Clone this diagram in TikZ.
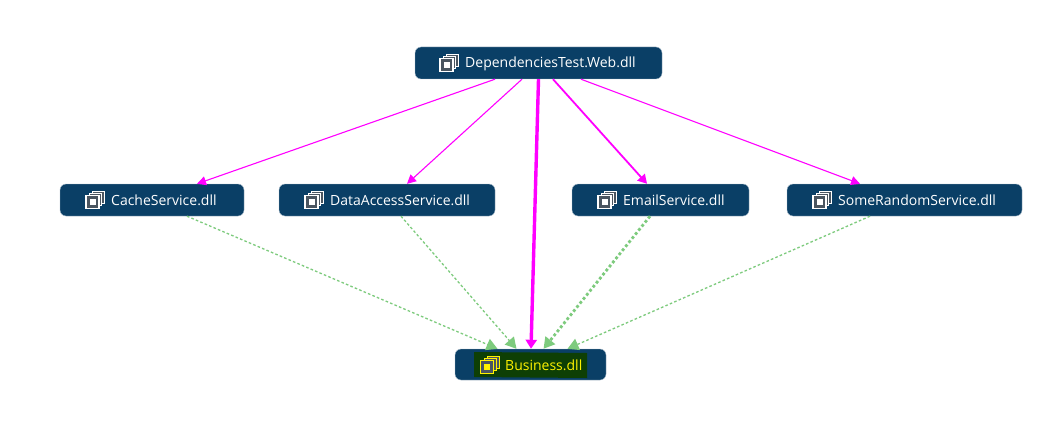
\documentclass[tikz,border=0pt]{standalone}
\usepackage{fontspec}
\setmainfont{Open Sans}
\usetikzlibrary{arrows.meta}
\definecolor{boxblue}{HTML}{0A3F66}
\definecolor{boxedge}{HTML}{A9BCCB}
\definecolor{dep}{HTML}{FF00FF}
\definecolor{inh}{HTML}{7DCB7D}
\definecolor{hilite}{HTML}{0E3F05}
\definecolor{iconfill}{HTML}{4A5560}
\tikzset{
  x=1pt,y=-1pt,
  dllbox/.style={draw=boxedge,line width=.4pt,fill=boxblue,rounded corners=6pt,minimum height=32pt,inner sep=0pt},
  dlltext/.style={text=white,font=\fontsize{14}{16}\selectfont,inner sep=0pt,anchor=west},
  magline/.style={draw=dep,-{Triangle[length=9pt,width=9pt]}},
  greenline/.style={draw=inh,dash pattern=on 2.6pt off 2.2pt,-{Triangle[length=11pt,width=12pt]}},
  pics/dllicon/.style={code={
    \draw[draw=#1,fill=iconfill,line width=.9pt] (-3,-9) rectangle (9,3);
    \draw[draw=#1,fill=iconfill,line width=.9pt] (-6,-7) rectangle (6,5.5);
    \draw[draw=#1,fill=iconfill,line width=1.3pt] (-9.5,-4.5) rectangle (3.5,8.5);
    \fill[#1] (-6,-1) rectangle (0,5);
  }}
}
\begin{document}
\begin{tikzpicture}
\useasboundingbox[fill=white] (0,0) rectangle (1056,441);
\node[dllbox,minimum width=247pt] (top) at (538.5,63) {};
\node[dllbox,minimum width=184pt] (cache) at (152,200) {};
\node[dllbox,minimum width=216pt] (data) at (387,200) {};
\node[dllbox,minimum width=177pt] (email) at (660.5,200) {};
\node[dllbox,minimum width=235pt] (some) at (904.5,200) {};
\node[dllbox,minimum width=151pt,minimum height=31pt] (bus) at (530.5,364.5) {};
\fill[hilite] (474,352) -- (587,353) -- (587,378) -- (474,377) -- cycle;
\node[dlltext] (ttop) at (465,63.5) {DependenciesTest.Web.dll};
\node[dlltext] (tcache) at (111,200.5) {CacheService.dll};
\node[dlltext] (tdata) at (330,200.5) {DataAccessService.dll};
\node[dlltext] (temail) at (623,200.5) {EmailService.dll};
\node[dlltext] (tsome) at (838,200.5) {SomeRandomService.dll};
\node[dlltext,text=yellow] (tbus) at (505,365) {Business.dll};
\pic at (449.5,63) {dllicon=white};
\pic at (95.5,200) {dllicon=white};
\pic at (314.5,200) {dllicon=white};
\pic at (607.5,200) {dllicon=white};
\pic at (822.5,200) {dllicon=white};
\pic at (490,365) {dllicon=yellow};
\draw[magline,line width=1.1pt] ([xshift=-43.5pt]top.south) -- ([xshift=45pt]cache.north);
\draw[magline,line width=1.1pt] ([xshift=-16.5pt]top.south) -- ([xshift=20pt]data.north);
\draw[magline,line width=3.4pt,-{Triangle[length=9pt,width=11pt]}] (top.south) -- ([xshift=.5pt]bus.north);
\draw[magline,line width=1.8pt,-{Triangle[length=9pt,width=10pt]}] ([xshift=14.5pt]top.south) -- ([xshift=-13.5pt]email.north);
\draw[magline,line width=1.1pt] ([xshift=42.5pt]top.south) -- ([xshift=-44.5pt]some.north);
\draw[greenline,line width=1.3pt] ([xshift=35pt]cache.south) -- ([xshift=-33pt]bus.north);
\draw[greenline,line width=1.3pt] ([xshift=14pt]data.south) -- ([xshift=-14pt]bus.north);
\draw[greenline,line width=2.8pt,dash pattern=on 2.8pt off 2.4pt] ([xshift=-10.5pt]email.south) -- ([xshift=13pt]bus.north);
\draw[greenline,line width=1.3pt] ([xshift=-34.5pt]some.south) -- ([xshift=37pt]bus.north);
\end{tikzpicture}
\end{document}
